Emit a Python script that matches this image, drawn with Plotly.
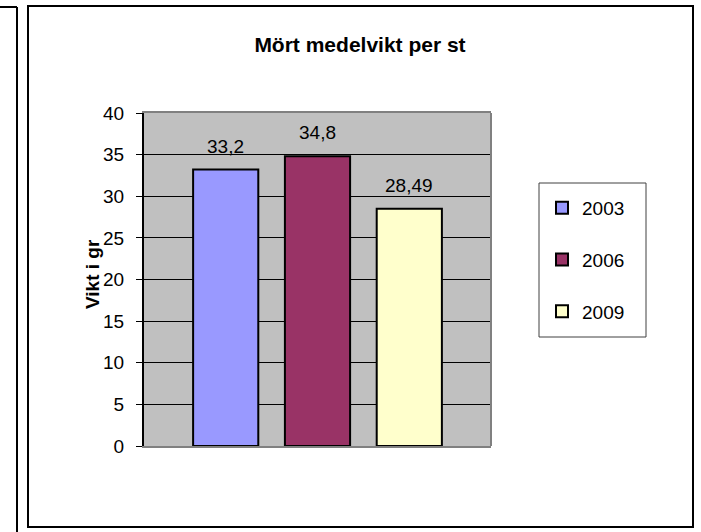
import plotly.graph_objects as go

# Data
years = ["2003", "2006", "2009"]
values = [33.2, 34.8, 28.49]
colors = ["#9999FF", "#993366", "#FFFFCC"]
y_ticks = [0, 5, 10, 15, 20, 25, 30, 35, 40]
title_text = "Mört medelvikt per st"
y_title = "Vikt i gr"

FONT = "Arial, Liberation Sans, sans-serif"

# Plot area in pixels: x 144-491, y 113-446
L, R, T, B = 144, 491, 113, 446
W, H = 701, 532
pw, ph = R - L, B - T

def px_x(p):
    return (p - L) / pw

def px_y(p):
    return (B - p) / ph

fig = go.Figure()
for i, (yr, v, c) in enumerate(zip(years, values, colors)):
    fig.add_trace(go.Bar(
        x=[yr], y=[v], name=yr, width=0.71,
        marker=dict(color=c, line=dict(color="black", width=2)),
        legendgroup=yr, hoverinfo="skip",
    ))
    fig.add_annotation(
        x=i, y=v, text=str(v).replace(".", ","), showarrow=False,
        yanchor="bottom", yshift=11, font=dict(family=FONT, size=19, color="black"),
    )

shapes = [
    # right border of plot area
    dict(type="line", xref="paper", yref="paper", x0=1, x1=1, y0=0, y1=1,
         line=dict(color="#808080", width=2)),
    # outer chart border
    dict(type="rect", xref="paper", yref="paper",
         x0=px_x(28), x1=px_x(693), y0=px_y(6), y1=px_y(527),
         line=dict(color="black", width=2)),
    # neighbouring chart edge at left
    dict(type="line", xref="paper", yref="paper",
         x0=px_x(17), x1=px_x(17), y0=px_y(7), y1=px_y(540),
         line=dict(color="black", width=2)),
    dict(type="line", xref="paper", yref="paper",
         x0=px_x(-5), x1=px_x(17), y0=px_y(7), y1=px_y(7),
         line=dict(color="black", width=2)),
    # legend box
    dict(type="rect", xref="paper", yref="paper",
         x0=px_x(539), x1=px_x(646), y0=px_y(183), y1=px_y(337),
         line=dict(color="#404040", width=1)),
]

fig.add_annotation(
    xref="paper", yref="paper", x=px_x(92), y=px_y(274), text="<b>%s</b>" % y_title,
    textangle=-90, showarrow=False, xanchor="center", yanchor="middle",
    font=dict(family=FONT, size=19, color="black"),
)

fig.update_layout(
    width=W, height=H,
    margin=dict(l=L, r=W - R, t=T, b=H - B, pad=0),
    paper_bgcolor="white", plot_bgcolor="#C0C0C0",
    font=dict(family=FONT, size=19, color="black"),
    title=dict(text="<b>%s</b>" % title_text, x=360 / W, xanchor="center", xref="container",
               y=1 - 45 / H, yanchor="middle", yref="container",
               font=dict(family=FONT, size=21, color="black")),
    barmode="overlay",
    showlegend=True,
    legend=dict(x=px_x(542), y=px_y(189), xanchor="left", yanchor="top",
                bgcolor="rgba(0,0,0,0)", borderwidth=0, traceorder="grouped",
                tracegroupgap=24, font=dict(family=FONT, size=19, color="black")),
    shapes=shapes,
    xaxis=dict(type="category", range=[-0.89, 2.89], showticklabels=False, ticks="",
               showgrid=False, zeroline=False, showline=True, linecolor="#808080",
               linewidth=2, mirror=True, fixedrange=True),
    yaxis=dict(range=[0, 40], tickvals=y_ticks, ticks="outside", ticklen=6,
               tickcolor="black", tickwidth=1, showline=True, linecolor="black",
               linewidth=2, showgrid=True, gridcolor="black", gridwidth=1,
               zeroline=False, ticklabelstandoff=8,
               tickfont=dict(family=FONT, size=19, color="black"), fixedrange=True),
)

fig.write_html("out.html", config={"displayModeBar": False},
               post_script="document.body.style.margin='0';")
